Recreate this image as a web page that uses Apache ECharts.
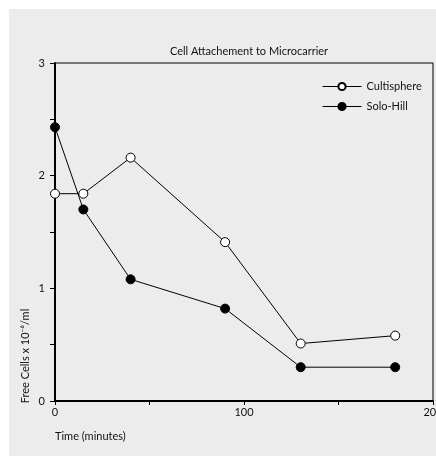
<!DOCTYPE html>
<html><head><meta charset="utf-8">
<script src="https://cdn.jsdelivr.net/npm/echarts@6/dist/echarts.min.js"></script>
<style>
html,body{margin:0;padding:0;background:#fff;overflow:hidden;}
#bg{position:absolute;left:9px;top:9px;width:427px;height:447px;background:#ececec;}
#c{position:absolute;left:0;top:0;width:436px;height:456px;}
</style></head>
<body><div id="bg"></div><div id="c"></div>
<script>
const timeMinutes = [0, 15, 40, 90, 130, 180];
const cultisphere = [1.84, 1.84, 2.16, 1.41, 0.51, 0.58];
const soloHill = [2.43, 1.70, 1.08, 0.82, 0.30, 0.30];
const seriesNames = ['Cultisphere', 'Solo-Hill'];
const titleText = 'Cell Attachement to Microcarrier';
const xAxisTitle = 'Time (minutes)';
const yAxisTitle = 'Free Cells x 10\u207B\u2076/ml';
const yLabelled = [0, 1, 2, 3];
const xLabelled = [0, 100, 200];

const FONT = 'Lato';
const TXT = '#111';
const chart = echarts.init(document.getElementById('c'), null, {renderer: 'canvas'});
const pair = (xs, ys) => xs.map((x, i) => [x, ys[i]]);
chart.setOption({
  backgroundColor: 'transparent',
  animation: false,
  title: {
    text: titleText, left: 244, top: 41, textAlign: 'center',
    textStyle: {fontFamily: FONT, fontSize: 11, fontWeight: 'normal', color: TXT}
  },
  legend: {
    orient: 'vertical', left: 317, top: 76, itemWidth: 39, itemHeight: 9, itemGap: 9,
    textStyle: {fontFamily: FONT, fontSize: 11, color: TXT},
    lineStyle: {width: 1},
    data: seriesNames
  },
  grid: {left: 55, top: 63, right: 3, bottom: 55, containLabel: false, outerBoundsMode: 'none',
    show: true, borderColor: '#000', borderWidth: 1, backgroundColor: 'transparent'},
  xAxis: {
    type: 'value', min: 0, max: 200, interval: 50,
    axisLine: {lineStyle: {color: '#000', width: 2}},
    axisTick: {length: 4, lineStyle: {color: '#000'}},
    splitLine: {show: false},
    axisLabel: {margin: 6, fontFamily: FONT, fontSize: 11, color: TXT,
      formatter: v => xLabelled.includes(v) ? String(v) : ''}
  },
  yAxis: {
    type: 'value', min: 0, max: 3, interval: 0.5,
    axisLine: {show: true, lineStyle: {color: '#000', width: 2}},
    axisTick: {show: true, length: 5, lineStyle: {color: '#000'}},
    splitLine: {show: false},
    axisLabel: {margin: 10, fontFamily: FONT, fontSize: 11, color: TXT,
      formatter: v => yLabelled.includes(v) ? String(v) : ''}
  },
  graphic: [
    {type: 'text', left: 55, top: 431, style: {text: xAxisTitle, font: '11px ' + FONT, fill: TXT}},
    {type: 'text', x: 25, y: 356, rotation: Math.PI / 2,
      style: {text: yAxisTitle, font: '11px ' + FONT, fill: TXT, align: 'center', verticalAlign: 'middle'}}
  ],
  series: [
    {name: seriesNames[0], type: 'line', data: pair(timeMinutes, cultisphere),
      symbol: 'circle', symbolSize: 9,
      lineStyle: {color: '#000', width: 1},
      itemStyle: {color: '#fff', borderColor: '#000', borderWidth: 1}},
    {name: seriesNames[1], type: 'line', data: pair(timeMinutes, soloHill),
      symbol: 'circle', symbolSize: 9,
      lineStyle: {color: '#000', width: 1},
      itemStyle: {color: '#000', borderColor: '#000', borderWidth: 1}}
  ]
});
</script></body></html>
